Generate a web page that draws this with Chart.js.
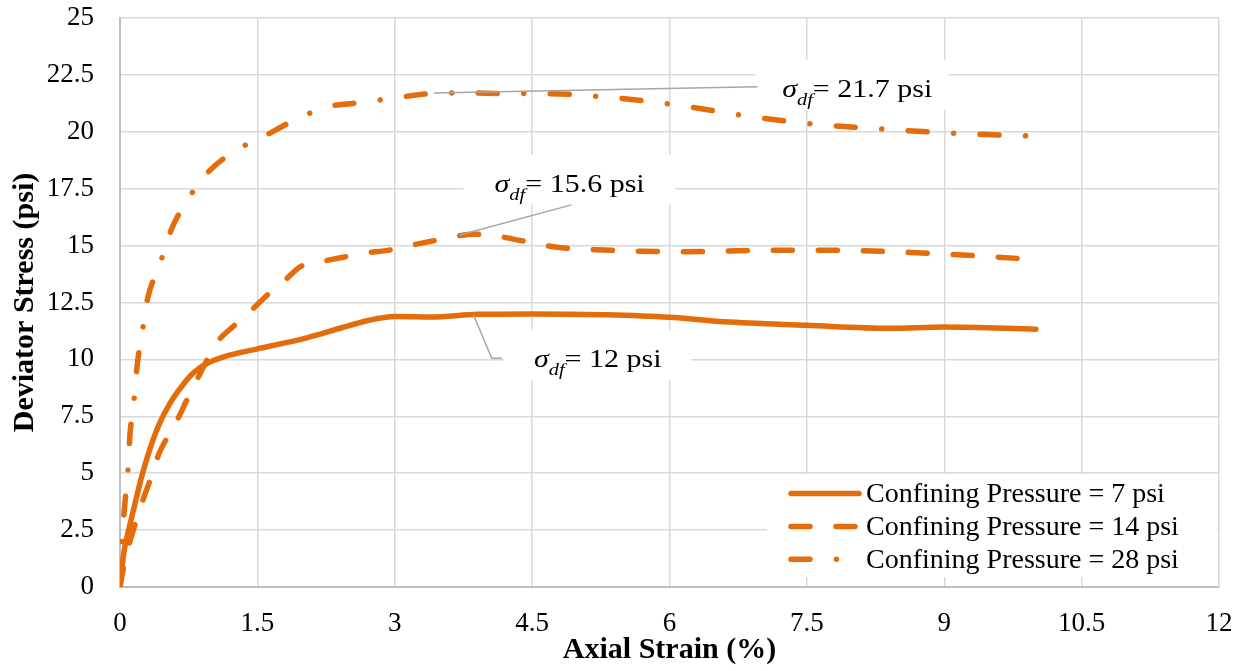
<!DOCTYPE html>
<html><head><meta charset="utf-8">
<script src="https://cdn.jsdelivr.net/npm/chart.js@4.4.0/dist/chart.umd.min.js"></script>
<style>html,body{margin:0;padding:0;background:#fff}#wrap{width:1244px;height:671px}</style>
</head><body><div id="wrap"><canvas id="c" width="1244" height="671"></canvas></div>
<script>
// ---- data ----
const xTickValues = [0, 1.5, 3, 4.5, 6, 7.5, 9, 10.5, 12];
const xTickLabels = ['0', '1.5', '3', '4.5', '6', '7.5', '9', '10.5', '12'];
const yTickValues = [0, 2.5, 5, 7.5, 10, 12.5, 15, 17.5, 20, 22.5, 25];
const yTickLabels = ['0', '2.5', '5', '7.5', '10', '12.5', '15', '17.5', '20', '22.5', '25'];
const seriesNames = ['Confining Pressure = 7 psi', 'Confining Pressure = 14 psi', 'Confining Pressure = 28 psi'];
const xTitle = 'Axial Strain (%)';
const yTitle = 'Deviator Stress (psi)';

const strain7 = [0, 0.02, 0.05, 0.1, 0.16, 0.24, 0.33, 0.42, 0.55, 0.69, 0.8, 0.93, 1.14, 1.5, 2.05, 2.42, 2.7, 3.0, 3.4, 3.9, 4.5, 5.3, 6.0, 6.6, 7.5, 8.4, 9.0, 10.0];
const stress7 = [0, 0.8, 1.7, 2.6, 3.6, 4.9, 6.1, 7.08, 8.1, 8.9, 9.4, 9.78, 10.12, 10.46, 10.96, 11.39, 11.7, 11.88, 11.86, 11.98, 12.0, 11.96, 11.85, 11.65, 11.5, 11.37, 11.42, 11.33];

const strain14 = [0, 0.04, 0.08, 0.13, 0.24, 0.32, 0.42, 0.52, 0.62, 0.74, 0.84, 0.94, 1.05, 1.25, 1.42, 1.6, 1.78, 1.98, 2.2, 2.45, 2.67, 2.94, 3.16, 3.41, 3.65, 3.87, 4.14, 4.4, 4.75, 5.2, 6.18, 7.07, 7.74, 8.63, 9.52, 10.05];
const stress14 = [0, 0.9, 1.6, 2.3, 3.7, 4.6, 5.8, 6.6, 7.3, 8.3, 9.1, 9.9, 10.7, 11.5, 12.1, 12.8, 13.4, 14.1, 14.3, 14.5, 14.67, 14.8, 15.0, 15.2, 15.4, 15.5, 15.4, 15.2, 14.94, 14.82, 14.73, 14.8, 14.8, 14.7, 14.51, 14.37];

const strain28 = [0, 0.018, 0.054, 0.084, 0.11, 0.15, 0.19, 0.24, 0.30, 0.43, 0.56, 0.72, 0.94, 1.23, 1.57, 1.9, 2.26, 2.64, 3.02, 3.41, 3.8, 4.19, 4.62, 5.29, 6.09, 6.85, 7.6, 8.41, 9.21, 10.05];
const stress28 = [0, 1.85, 3.71, 4.98, 6.75, 8.1, 9.82, 11.13, 12.65, 14.12, 15.7, 16.9, 18.13, 19.1, 19.8, 20.5, 21.09, 21.29, 21.5, 21.68, 21.71, 21.68, 21.68, 21.53, 21.17, 20.69, 20.33, 20.1, 19.92, 19.8];

// failure-stress callouts (values)
const peakLabels = ['21.7', '15.6', '12'];
const peakStrain = [3.43, 3.71, 3.86];
const peakStress = [21.71, 15.47, 11.95];

// ---- layout / style (not data) ----
const ORANGE = '#E46C0A';
const FONT = "'Liberation Serif', 'Times New Roman', serif";
const calloutLayout = [
  {leader: [[6.96, 21.98]], textX: 7.23, textY: 21.54, pad: [26, 16]},
  {leader: [[4.93, 16.79]], textX: 4.09, textY: 17.37, pad: [31, 30]},
  {leader: [[4.06, 10.05], [4.17, 10.05]], textX: 4.52, textY: 9.67, pad: [30, 30]}
];
const dashes = [[], [19, 26], [19, 26.5, 0.01, 26.5]];

const toXY = (xs, ys) => xs.map((x, i) => ({x, y: ys[i]}));
const seriesData = [toXY(strain7, stress7), toXY(strain14, stress14), toXY(strain28, stress28)];

const datasets = seriesData.map((d, i) => ({
  label: seriesNames[i],
  data: d,
  borderColor: ORANGE,
  backgroundColor: ORANGE,
  borderWidth: 5.5,
  borderDash: dashes[i],
  borderCapStyle: 'round',
  borderJoinStyle: 'round',
  pointRadius: 0,
  fill: false,
  cubicInterpolationMode: 'monotone'
}));

const HS = 1.2; // horizontal stretch of callout text
function calloutParts(label) {
  return [
    {t: '\u03C3', f: 'italic 25px ' + FONT, dy: 0},
    {t: 'df', f: 'italic 17px ' + FONT, dy: 8},
    {t: '= ' + label + ' psi', f: '25px ' + FONT, dy: 0}
  ];
}
function calloutWidth(ctx, parts) {
  let w = 0;
  parts.forEach(p => { ctx.font = p.f; w += ctx.measureText(p.t).width; });
  return w * HS;
}

const calloutPlugin = {
  id: 'callouts',
  beforeDatasetsDraw(chart) {
    const {ctx, scales: {x, y}} = chart;
    ctx.save();
    ctx.fillStyle = '#ffffff';
    peakLabels.forEach((lab, i) => {
      const L = calloutLayout[i];
      const parts = calloutParts(lab);
      const w = calloutWidth(ctx, parts);
      const tx = x.getPixelForValue(L.textX), ty = y.getPixelForValue(L.textY);
      ctx.fillRect(tx - L.pad[0], ty - 37, w + L.pad[0] + L.pad[1], 50);
    });
    ctx.restore();
  },
  afterDatasetsDraw(chart) {
    const {ctx, scales: {x, y}, chartArea} = chart;
    ctx.save();
    // leader lines
    ctx.strokeStyle = '#a6a6a6';
    ctx.lineWidth = 1.5;
    ctx.setLineDash([]);
    peakLabels.forEach((lab, i) => {
      const L = calloutLayout[i];
      ctx.beginPath();
      ctx.moveTo(x.getPixelForValue(peakStrain[i]), y.getPixelForValue(peakStress[i]));
      L.leader.forEach(p => ctx.lineTo(x.getPixelForValue(p[0]), y.getPixelForValue(p[1])));
      ctx.stroke();
    });
    // texts
    ctx.fillStyle = '#000';
    ctx.textBaseline = 'alphabetic';
    ctx.textAlign = 'left';
    peakLabels.forEach((lab, i) => {
      const L = calloutLayout[i];
      const parts = calloutParts(lab);
      let cx = x.getPixelForValue(L.textX);
      const by = y.getPixelForValue(L.textY);
      parts.forEach(p => {
        ctx.font = p.f;
        const w = ctx.measureText(p.t).width;
        ctx.save();
        ctx.translate(cx, by + p.dy);
        ctx.scale(HS, 1);
        ctx.fillText(p.t, 0, 0);
        ctx.restore();
        cx += w * HS;
      });
    });
    // legend
    const bw = 450, bh = 103;
    const bx = chartArea.right - 2 - bw, by0 = chartArea.bottom - 10 - bh;
    ctx.fillStyle = '#ffffff';
    ctx.fillRect(bx, by0, bw, bh);
    chart.data.datasets.forEach((ds, i) => {
      const ry = by0 + 19.6 + i * 32.8;
      ctx.strokeStyle = ds.borderColor;
      ctx.lineWidth = ds.borderWidth;
      ctx.lineCap = 'round';
      ctx.setLineDash(ds.borderDash);
      ctx.beginPath();
      ctx.moveTo(bx + 24, ry);
      ctx.lineTo(bx + 92, ry);
      ctx.stroke();
      ctx.setLineDash([]);
      ctx.fillStyle = '#000';
      ctx.font = '28px ' + FONT;
      ctx.textBaseline = 'middle';
      ctx.fillText(ds.label, bx + 99, ry + 1);
    });
    ctx.restore();
  }
};

Chart.defaults.font.family = FONT;
Chart.defaults.color = '#000';

new Chart(document.getElementById('c'), {
  type: 'line',
  data: {datasets},
  plugins: [calloutPlugin],
  options: {
    responsive: false,
    animation: false,
    devicePixelRatio: 1,
    layout: {padding: {left: 0, right: 25, top: 18, bottom: 0}},
    plugins: {legend: {display: false}, tooltip: {enabled: false}},
    scales: {
      x: {
        type: 'linear', min: 0, max: 12,
        afterBuildTicks: s => { s.ticks = xTickValues.map(v => ({value: v})); },
        afterFit: s => { s.height = 84; s.paddingLeft = 0; s.paddingRight = 0; s.paddingTop = 0; s.paddingBottom = 0; },
        ticks: {
          font: {size: 27}, color: '#000', padding: 21, maxRotation: 0,
          callback: (v, i) => xTickLabels[i]
        },
        grid: {color: '#d9d9d9', lineWidth: 1.5, drawTicks: false},
        border: {color: '#bfbfbf', width: 2},
        title: {display: true, text: xTitle, font: {size: 30, weight: 'bold'}, color: '#000', padding: {top: 0, bottom: 3}}
      },
      y: {
        type: 'linear', min: 0, max: 25,
        afterBuildTicks: s => { s.ticks = yTickValues.map(v => ({value: v})); },
        afterFit: s => { s.width = 120; s.paddingLeft = 0; s.paddingRight = 0; s.paddingTop = 0; s.paddingBottom = 0; },
        ticks: {
          font: {size: 27}, color: '#000', padding: 26,
          callback: (v, i) => yTickLabels[i]
        },
        grid: {color: '#d9d9d9', lineWidth: 1.5, drawTicks: false},
        border: {color: '#bfbfbf', width: 2},
        title: {display: true, text: yTitle, font: {size: 30, weight: 'bold'}, color: '#000', padding: {top: 7, bottom: 0}}
      }
    }
  }
});
</script>
</body></html>
